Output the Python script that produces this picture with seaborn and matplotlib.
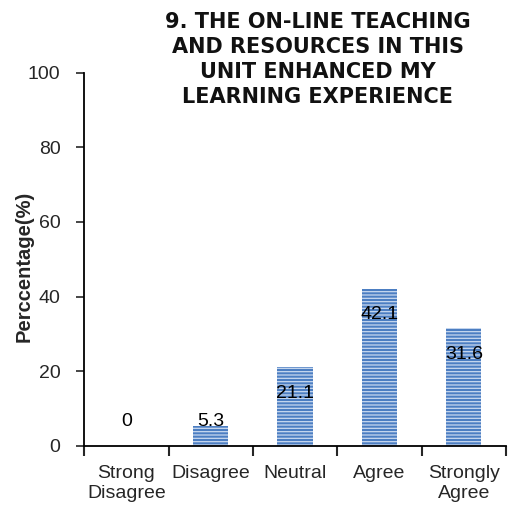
import pandas as pd
import matplotlib
matplotlib.use('Agg')
import matplotlib.pyplot as plt
import seaborn as sns
from matplotlib.ticker import FixedLocator

categories = ['Strong\nDisagree', 'Disagree', 'Neutral', 'Agree', 'Strongly\nAgree']
values = [0, 5.3, 21.1, 42.1, 31.6]
value_labels = ['0', '5.3', '21.1', '42.1', '31.6']

sns.set_style('white')
plt.rcParams['font.family'] = ['Liberation Sans', 'DejaVu Sans']
plt.rcParams['hatch.linewidth'] = 0.9

df = pd.DataFrame({'cat': categories, 'val': values})

fig = plt.figure(figsize=(5.1, 5.16), dpi=100)
ax = fig.add_axes([0.165, 0.136, 0.827, 0.723])
sns.barplot(data=df, x='cat', y='val', color='#4C7EC2', width=0.42,
            saturation=1, ax=ax)
for p in ax.patches:
    p.set_hatch('-----')
    p.set_edgecolor('#C8D8EF')
    p.set_linewidth(0)

# value labels sit just inside the bar top, or above short bars
for i, (v, lab) in enumerate(zip(values, value_labels)):
    y = v - 7 if v > 14 else 6.5
    ax.text(i, y, lab, ha='center', va='center', fontsize=14, color='black')

ax.set_ylim(0, 100)
ax.set_xlim(-0.5, 4.5)
ax.set_yticks([0, 20, 40, 60, 80, 100])
ax.tick_params(axis='y', labelsize=14, length=6, width=1.2, direction='out', left=True, pad=11)
ax.tick_params(axis='x', which='major', length=0, labelsize=14, pad=14)
ax.xaxis.set_minor_locator(FixedLocator([-0.5, 0.5, 1.5, 2.5, 3.5, 4.5]))
ax.tick_params(axis='x', which='minor', length=7, width=1.5, direction='out', bottom=True)
for t in ax.get_xticklabels():
    t.set_linespacing(1.2)
ax.set_xlabel('')
ax.set_ylabel('Perccentage(%)', fontsize=14.5, fontweight='bold')
ax.yaxis.set_label_coords(-0.12, 0.48)
for s in ['top', 'right']:
    ax.spines[s].set_visible(False)
for s in ['left', 'bottom']:
    ax.spines[s].set_color('black')
    ax.spines[s].set_linewidth(1.3)

fig.text(0.623, 0.976, '9. THE ON-LINE TEACHING\nAND RESOURCES IN THIS\nUNIT ENHANCED MY\nLEARNING EXPERIENCE',
         ha='center', va='top', fontsize=15, fontweight='bold', linespacing=1.3,
         color='#111111', family=['DejaVu Sans'])

fig.savefig('out.png', dpi=100)
